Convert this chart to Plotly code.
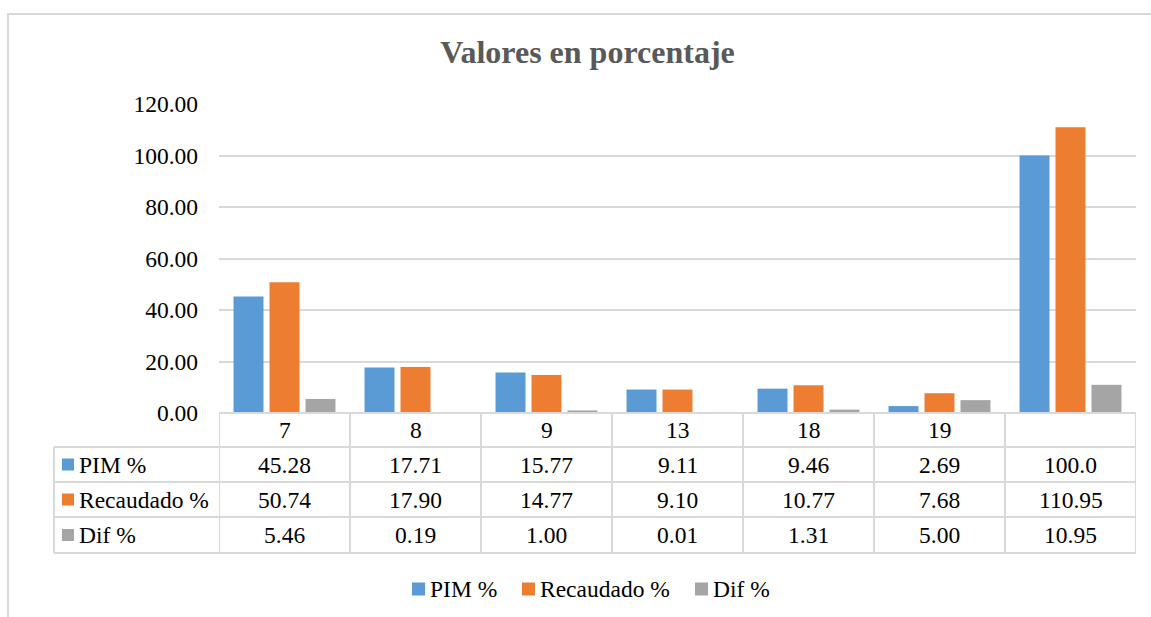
import plotly.graph_objects as go

# ---------------- data ----------------
categories = ["7", "8", "9", "13", "18", "19", ""]
series_names = ["PIM %", "Recaudado %", "Dif %"]
pim_txt = ["45.28", "17.71", "15.77", "9.11", "9.46", "2.69", "100.0"]
recaudado_txt = ["50.74", "17.90", "14.77", "9.10", "10.77", "7.68", "110.95"]
dif_txt = ["5.46", "0.19", "1.00", "0.01", "1.31", "5.00", "10.95"]
y_ticks = [0, 20, 40, 60, 80, 100, 120]
y_tick_labels = ["0.00", "20.00", "40.00", "60.00", "80.00", "100.00", "120.00"]

pim = [float(s) for s in pim_txt]
recaudado = [float(s) for s in recaudado_txt]
dif = [float(s) for s in dif_txt]

# ---------------- style ----------------
W, H = 1151, 617
L, R, T, B = 219, 15, 104, 204
PW, PH = W - L - R, H - T - B
FONT = "Liberation Serif"
colors = ["#5B9BD5", "#ED7D31", "#A5A5A5"]
GRID = "#D9D9D9"
FS = 23.5
legend_x_px = [412, 522, 695]   # left edge of each legend swatch
legend_y_px = 589


def py(pix_y):
    """pixel y -> paper y"""
    return (H - B - pix_y) / PH


def px(pix_x):
    return (pix_x - L) / PW


xs = list(range(len(categories)))
fig = go.Figure()
for name, vals, col in zip(series_names, [pim, recaudado, dif], colors):
    fig.add_trace(go.Bar(x=xs, y=vals, name=name, showlegend=False,
                         marker=dict(color=col, line=dict(width=0))))

shapes = []
annotations = []
line = dict(color=GRID, width=2)

# outer frame
shapes.append(dict(type="rect", xref="paper", yref="paper", x0=px(8), x1=px(W + 20),
                   y0=py(14), y1=py(H + 20), line=dict(color=GRID, width=2), layer="below"))

# table geometry (pixel rows)
row_edges = [413, 447, 482, 517, 553]
label_left = 54
n = len(categories)
# horizontal lines
shapes.append(dict(type="line", xref="x", yref="paper", x0=-0.5, x1=n - 0.5,
                   y0=py(row_edges[0]), y1=py(row_edges[0]), line=line))
for ry in row_edges[1:]:
    shapes.append(dict(type="line", xref="paper", yref="paper", x0=px(label_left), x1=1,
                       y0=py(ry), y1=py(ry), line=line))
# vertical lines
for i in range(n + 1):
    shapes.append(dict(type="line", xref="x", yref="paper", x0=i - 0.5, x1=i - 0.5,
                       y0=py(row_edges[0]), y1=py(row_edges[-1]), line=line))
shapes.append(dict(type="line", xref="paper", yref="paper", x0=px(label_left), x1=px(label_left),
                   y0=py(row_edges[1]), y1=py(row_edges[-1]), line=line))

tfont = dict(family=FONT, size=FS, color="#000000")
# category header
for i, c in enumerate(categories):
    annotations.append(dict(x=i, y=py((row_edges[0] + row_edges[1]) / 2), xref="x", yref="paper",
                            text=c, showarrow=False, font=tfont, xanchor="center", yanchor="middle"))
# rows
for r, (name, txts, col) in enumerate(zip(series_names, [pim_txt, recaudado_txt, dif_txt], colors)):
    yc = py((row_edges[r + 1] + row_edges[r + 2]) / 2)
    shapes.append(dict(type="rect", xref="paper", yref="paper", x0=px(62), x1=px(74),
                       y0=yc - 6 / PH, y1=yc + 6 / PH, fillcolor=col, line=dict(width=0)))
    annotations.append(dict(x=px(77), y=yc, xref="paper", yref="paper", text=name, showarrow=False,
                            font=tfont, xanchor="left", yanchor="middle"))
    for i, t in enumerate(txts):
        annotations.append(dict(x=i, y=yc, xref="x", yref="paper", text=t, showarrow=False,
                                font=tfont, xanchor="center", yanchor="middle"))

# bottom legend
ly = py(legend_y_px)
for name, col, lx in zip(series_names, colors, legend_x_px):
    shapes.append(dict(type="rect", xref="paper", yref="paper", x0=px(lx), x1=px(lx + 13),
                       y0=ly - 6.5 / PH, y1=ly + 6.5 / PH, fillcolor=col, line=dict(width=0)))
    annotations.append(dict(x=px(lx + 16), y=ly, xref="paper", yref="paper", text=name,
                            showarrow=False, font=tfont, xanchor="left", yanchor="middle"))

fig.update_layout(
    width=W, height=H,
    margin=dict(l=L, r=R, t=T, b=B, autoexpand=False),
    paper_bgcolor="white", plot_bgcolor="white",
    barmode="group", bargap=0.176, bargroupgap=0.167,
    showlegend=False,
    title=dict(text="<b>Valores en porcentaje</b>", x=587.5 / W, xanchor="center", xref="container",
               y=1 - 52 / H, yanchor="middle", yref="container",
               font=dict(family=FONT, size=32, color="#595959")),
    font=dict(family=FONT, size=FS, color="#000000"),
    xaxis=dict(range=[-0.5, n - 0.5], showticklabels=False, showgrid=False, zeroline=False,
               showline=False, ticks=""),
    yaxis=dict(range=[0, 120], tickvals=y_ticks, ticktext=y_tick_labels, showgrid=True,
               gridcolor=GRID, gridwidth=2, zeroline=False, showline=False, ticks="",
               ticklabelstandoff=20, tickfont=dict(family=FONT, size=FS, color="#000000")),
    shapes=shapes, annotations=annotations,
)

fig.write_html("out.html", config={"displayModeBar": False},
               post_script="document.body.style.margin='0';")
